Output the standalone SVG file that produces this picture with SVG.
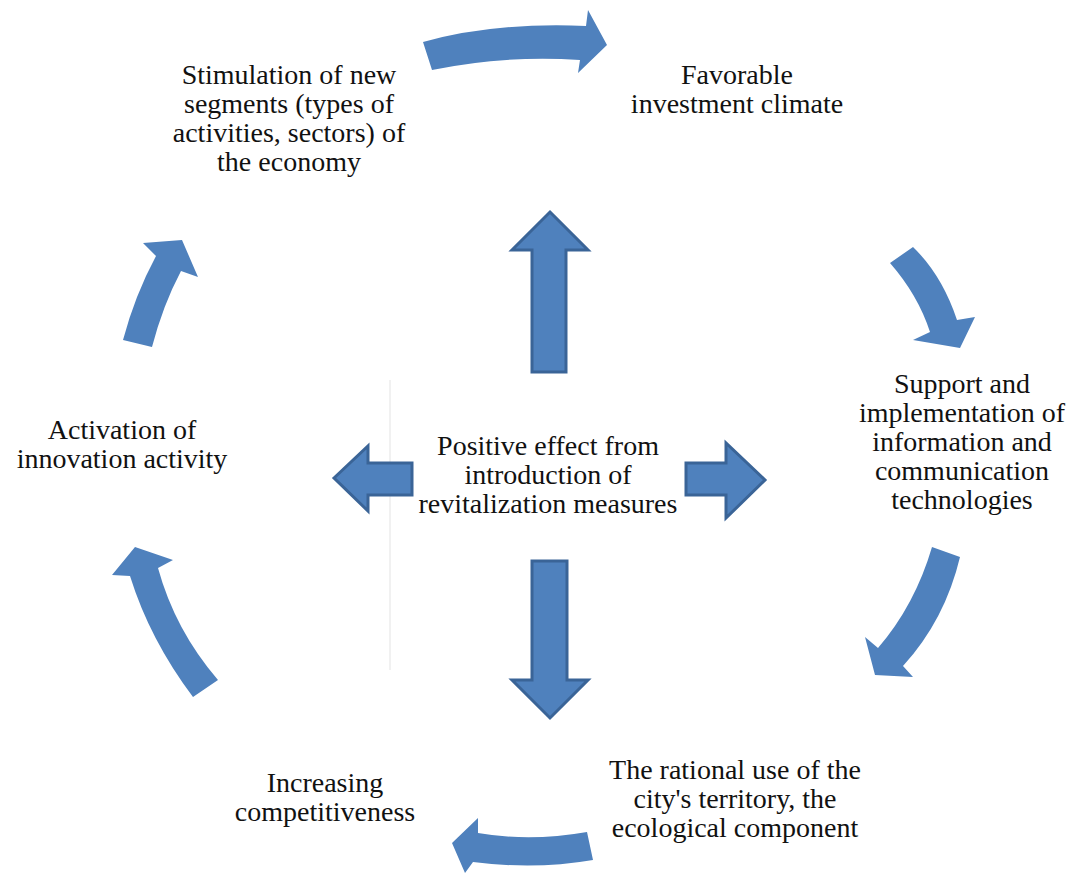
<svg xmlns="http://www.w3.org/2000/svg" width="1070" height="874" viewBox="0 0 1070 874">
<style>
.t{font-family:"Liberation Serif","Times New Roman",serif;font-size:28px;fill:#111;text-anchor:middle}
.c{fill:#4F81BD}
.b{fill:#4F81BD;stroke:#3A6497;stroke-width:3;stroke-linejoin:miter}
</style>
<rect width="1070" height="874" fill="#fff"/>
<line x1="390" y1="380" x2="390" y2="670" stroke="#ececec" stroke-width="1.5"/>
<g id="connectors">
<path class="c" d="M423,42 Q495,22 586,26 L588,10 L607,45 L578,73 L580,60 Q505,55 432,70 Z"/>
<path class="c" d="M890,263 L913,247 Q942,275 957,320 L975,317 L960,348 L913,340 L930,332 Q918,295 890,263 Z"/>
<path class="c" d="M932,547 L960,557 Q945,620 903,666 L913,677 L875,675 L865,637 L878,648 Q915,605 932,547 Z"/>
<path class="c" d="M587,832 Q530,842 478,833 L478,818 L452,843 L465,873 L473,862 Q535,870 593,860 Z"/>
<path class="c" d="M193,697 Q150,640 130,576 L112,575 L135,547 L173,560 L158,568 Q175,630 218,680 Z"/>
<path class="c" d="M123,340 Q135,295 156,256 L143,243 L182,240 L198,277 L181,271 Q163,305 152,347 Z"/>
<path class="b" d="M550,212 L588,250 L566,250 L566,372 L532,372 L532,250 L512,250 Z"/>
<path class="b" d="M532,561 L567,561 L567,680 L588,680 L550,718 L512,680 L532,680 Z"/>
<path class="b" d="M334,478 L368,446 L368,463 L412,463 L412,495 L368,495 L368,511 Z"/>
<path class="b" d="M686,463 L726,463 L726,443 L765,480 L726,518 L726,495 L686,495 Z"/>
</g>
<g id="center">
<text class="t" x="548" y="455">Positive effect from</text>
<text class="t" x="548" y="484">introduction of</text>
<text class="t" x="548" y="513">revitalization measures</text>
</g>
<g id="stimulation">
<text class="t" x="289" y="84">Stimulation of new</text>
<text class="t" x="289" y="113">segments (types of</text>
<text class="t" x="289" y="142">activities, sectors) of</text>
<text class="t" x="289" y="171">the economy</text>
</g>
<g id="investment">
<text class="t" x="737" y="84">Favorable</text>
<text class="t" x="737" y="113">investment climate</text>
</g>
<g id="ict">
<text class="t" x="962" y="393">Support and</text>
<text class="t" x="962" y="422">implementation of</text>
<text class="t" x="962" y="451">information and</text>
<text class="t" x="962" y="480">communication</text>
<text class="t" x="962" y="509">technologies</text>
</g>
<g id="territory">
<text class="t" x="735" y="779">The rational use of the</text>
<text class="t" x="735" y="808">city's territory, the</text>
<text class="t" x="735" y="837">ecological component</text>
</g>
<g id="competitiveness">
<text class="t" x="325" y="792">Increasing</text>
<text class="t" x="325" y="821">competitiveness</text>
</g>
<g id="innovation">
<text class="t" x="122" y="439">Activation of</text>
<text class="t" x="122" y="468">innovation activity</text>
</g>
</svg>
